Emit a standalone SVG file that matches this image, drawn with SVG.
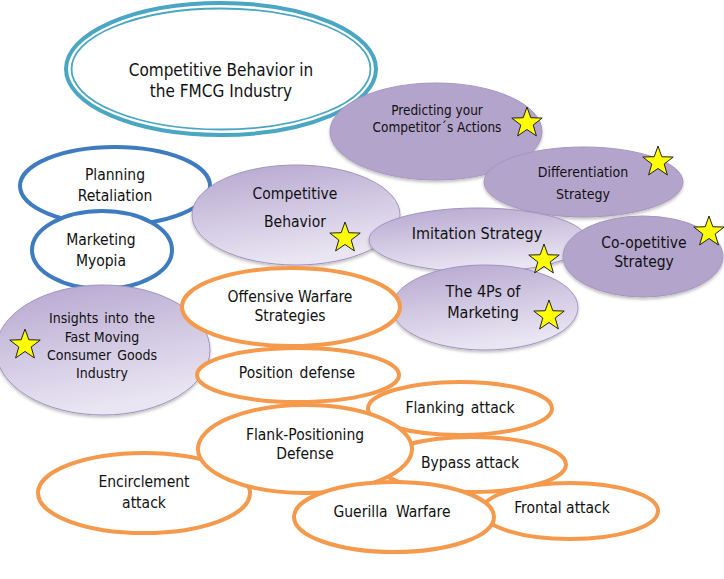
<svg xmlns="http://www.w3.org/2000/svg" width="724" height="579" viewBox="0 0 724 579">
<defs>
<linearGradient id="gp" x1="0" y1="0" x2="0.3" y2="1">
<stop offset="0" stop-color="#B5A6CF"/>
<stop offset="1" stop-color="#E9E5F2"/>
</linearGradient>
<filter id="sh" x="-10%" y="-10%" width="120%" height="130%">
<feDropShadow dx="0" dy="2" stdDeviation="1.5" flood-color="#000" flood-opacity="0.25"/>
</filter>
<path id="star" d="M0,-16 L3.82,-5.26 L15.22,-4.94 L6.18,2.01 L9.4,12.94 L0,6.5 L-9.4,12.94 L-6.18,2.01 L-15.22,-4.94 L-3.82,-5.26 Z"/>
<style>
text{font-family:'DejaVu Sans Condensed','DejaVu Sans',sans-serif;font-stretch:condensed;fill:#111;text-anchor:middle;font-size:15.5px}
.ps{fill:#B3A4CB;stroke:#A596C0;stroke-width:1;filter:url(#sh)}
.pg{fill:url(#gp);stroke:#A193BF;stroke-width:1;filter:url(#sh)}
.bl{fill:#fff;stroke:#3E7CBF;stroke-width:4}
.or{fill:#fff;stroke:#F5994C;stroke-width:4}
.st{fill:#FFFF00;stroke:#222;stroke-width:1}
.sm{font-size:13.5px}
</style>
</defs>

<g id="title">
<ellipse cx="221" cy="69" rx="155" ry="66" fill="#fff" stroke="#4AA6C2" stroke-width="4"/>
<ellipse cx="221" cy="69" rx="149.5" ry="60.5" fill="none" stroke="#4AA6C2" stroke-width="1.8"/>
<text x="221" y="76" style="font-size:17px">Competitive Behavior in</text>
<text x="221" y="97" style="font-size:17px">the FMCG Industry</text>
</g>

<g id="predicting">
<ellipse class="ps" cx="436" cy="131.5" rx="106" ry="48.5"/>
</g>
<g id="differentiation">
<ellipse class="ps" cx="583.5" cy="182" rx="99.5" ry="35"/>
</g>
<g id="planning">
<ellipse class="bl" cx="115" cy="186" rx="95" ry="39"/>
<text x="115" y="180">Planning</text>
<text x="115" y="201">Retaliation</text>
</g>
<g id="myopia">
<ellipse class="bl" cx="102" cy="250" rx="70" ry="39"/>
<text x="101" y="245">Marketing</text>
<text x="101" y="266">Myopia</text>
</g>
<g id="competitive-behavior">
<ellipse class="pg" cx="296" cy="215" rx="104" ry="50"/>
</g>
<g id="imitation">
<ellipse class="pg" cx="478" cy="240" rx="109" ry="32"/>
</g>
<g id="coopetitive">
<ellipse class="ps" cx="643" cy="256.5" rx="80" ry="40.5"/>
</g>
<g id="fourps">
<ellipse class="pg" cx="485" cy="307.5" rx="93" ry="42.5"/>
</g>
<g id="insights">
<ellipse class="pg" cx="103" cy="350" rx="107" ry="65"/>
</g>

<g id="offensive">
<ellipse class="or" cx="291" cy="307" rx="109" ry="39"/>
<text x="290" y="302">Offensive Warfare</text>
<text x="290" y="321">Strategies</text>
</g>
<g id="position">
<ellipse class="or" cx="298" cy="375" rx="101" ry="27"/>
<text x="297" y="378" style="word-spacing:2px">Position defense</text>
</g>
<g id="flanking">
<ellipse class="or" cx="460" cy="408.5" rx="92" ry="26.5"/>
<text x="460" y="413" style="word-spacing:2px">Flanking attack</text>
</g>
<g id="frontal">
<ellipse class="or" cx="570" cy="511" rx="88" ry="28"/>
<text x="562" y="513">Frontal attack</text>
</g>
<g id="bypass">
<ellipse class="or" cx="472" cy="464.5" rx="94" ry="27.5"/>
<text x="470" y="468">Bypass attack</text>
</g>
<g id="encirclement">
<ellipse class="or" cx="144" cy="493" rx="106" ry="40"/>
<text x="144" y="487">Encirclement</text>
<text x="144" y="508">attack</text>
</g>
<g id="flank-positioning">
<ellipse class="or" cx="305" cy="449" rx="107" ry="44"/>
<text x="305" y="440">Flank-Positioning</text>
<text x="305" y="459">Defense</text>
</g>
<g id="guerilla">
<ellipse class="or" cx="394" cy="517" rx="100" ry="35"/>
<text x="392" y="517" style="word-spacing:4px">Guerilla Warfare</text>
</g>

<g id="labels-purple">
<text class="sm" x="437" y="115">Predicting your</text>
<text class="sm" x="437" y="132">Competitor´s Actions</text>
<text x="583" y="177" style="font-size:14px">Differentiation</text>
<text x="583" y="199" style="font-size:14px">Strategy</text>
<text x="295" y="199">Competitive</text>
<text x="295" y="227">Behavior</text>
<text x="477" y="239" style="font-size:16px">Imitation Strategy</text>
<text x="644" y="248">Co-opetitive</text>
<text x="644" y="267">Strategy</text>
<text x="483" y="297" style="font-size:16px">The 4Ps of</text>
<text x="483" y="318" style="font-size:16px">Marketing</text>
<text x="102" y="323" style="font-size:14px;word-spacing:2px">Insights into the</text>
<text x="102" y="342" style="font-size:14px">Fast Moving</text>
<text x="102" y="360" style="font-size:14px;word-spacing:2px">Consumer Goods</text>
<text x="102" y="378" style="font-size:14px">Industry</text>
</g>

<g id="stars">
<use href="#star" class="st" x="527" y="123"/>
<use href="#star" class="st" x="658" y="162"/>
<use href="#star" class="st" x="709" y="232"/>
<use href="#star" class="st" x="544" y="260"/>
<use href="#star" class="st" x="345" y="238"/>
<use href="#star" class="st" x="549" y="316"/>
<use href="#star" class="st" x="25" y="345"/>
</g>
</svg>
